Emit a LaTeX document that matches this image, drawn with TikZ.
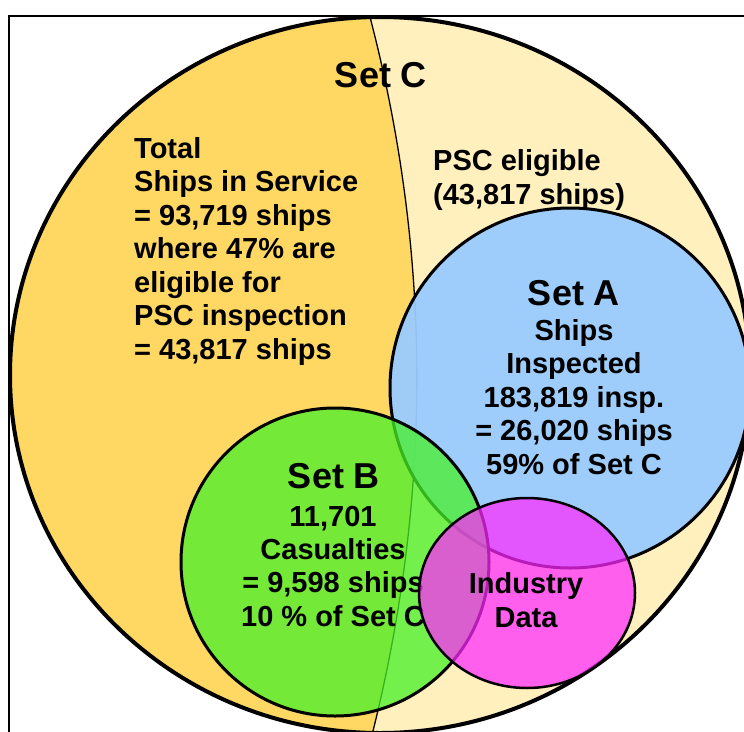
\documentclass[tikz,border=0pt]{standalone}
\usepackage{fontspec}
\setmainfont{Liberation Sans}
\definecolor{cleft}{RGB}{255,216,100}
\definecolor{cright}{RGB}{255,240,190}
\definecolor{cblue}{RGB}{153,204,255}
\definecolor{cgreen}{RGB}{70,240,40}
\definecolor{cmag}{RGB}{255,40,255}
\begin{document}
\begin{tikzpicture}[x=1pt,y=-1pt,
  txt/.style={font=\bfseries\fontsize{29}{33}\selectfont, inner sep=0pt, anchor=base},
  txtl/.style={txt, anchor=base west},
  big/.style={font=\bfseries\fontsize{36}{40}\selectfont, inner sep=0pt, anchor=base},
  outline/.style={draw=black, line width=3pt}]
\useasboundingbox (0,0) rectangle (744,731);
\begin{scope}
\clip (0,0) rectangle (744,731);
% frame
\draw[line width=1.8pt] (760,16) -- (9,16) -- (9,760);
% Set C
\fill[cright] (380,375) ellipse [x radius=370pt, y radius=358pt];
\begin{scope}
  \clip (380,375) ellipse [x radius=370pt, y radius=358pt];
  \fill[cleft] (0,0) -- (368,0) -- (370,17) .. controls (432,255) and (432,493) .. (373,731) -- (374,760) -- (0,760) -- cycle;
  \draw[line width=1.3pt] (368,0) -- (370,17) .. controls (432,255) and (432,493) .. (373,731) -- (374,760);
\end{scope}
\draw[line width=4pt] (380,375) ellipse [x radius=370pt, y radius=358pt];
\node[big] (setc) at (381,87) {Set C};
\node[txtl] (c1) at (134,158) {Total};
\node[txtl] (c2) at (134,191.5) {Ships in Service};
\node[txtl] (c3) at (134,225) {= 93,719 ships};
\node[txtl] (c4) at (134,258.5) {where 47\% are};
\node[txtl] (c5) at (134,292) {eligible for};
\node[txtl] (c6) at (134,325.5) {PSC inspection};
\node[txtl] (c7) at (134,359) {= 43,817 ships};
\node[txtl] (p1) at (433,170) {PSC eligible};
\node[txtl] (p2) at (433,204) {(43,817 ships)};
% Set A
\fill[cblue, opacity=0.95] (570,388) circle [radius=180pt];
\draw[outline] (570,388) circle [radius=180pt];
\node[big] (seta) at (574,305) {Set A};
\node[txt] (a1) at (574,340) {Ships};
\node[txt] (a2) at (574,373.5) {Inspected};
\node[txt] (a3) at (574,407) {183,819 insp.};
\node[txt] (a4) at (574,440.5) {= 26,020 ships};
\node[txt] (a5) at (574,474) {59\% of Set C};
% Set B
\fill[cgreen, opacity=0.75] (335,562) circle [radius=154pt];
\draw[outline] (335,562) circle [radius=154pt];
\node[big] (setb) at (334,488) {Set B};
\node[txt] (b1) at (333,526) {11,701};
\node[txt] (b2) at (333,559) {Casualties};
\node[txt] (b3) at (333,592.5) {= 9,598 ships};
\node[txt] (b4) at (333,626) {10 \% of Set C};
% Industry data
\fill[cmag, opacity=0.72] (527,593) ellipse [x radius=108pt, y radius=95pt];
\draw[line width=2.5pt] (527,593) ellipse [x radius=108pt, y radius=95pt];
\node[txt] (i1) at (526,593) {Industry};
\node[txt] (i2) at (526,627) {Data};
\end{scope}
\end{tikzpicture}
\end{document}
